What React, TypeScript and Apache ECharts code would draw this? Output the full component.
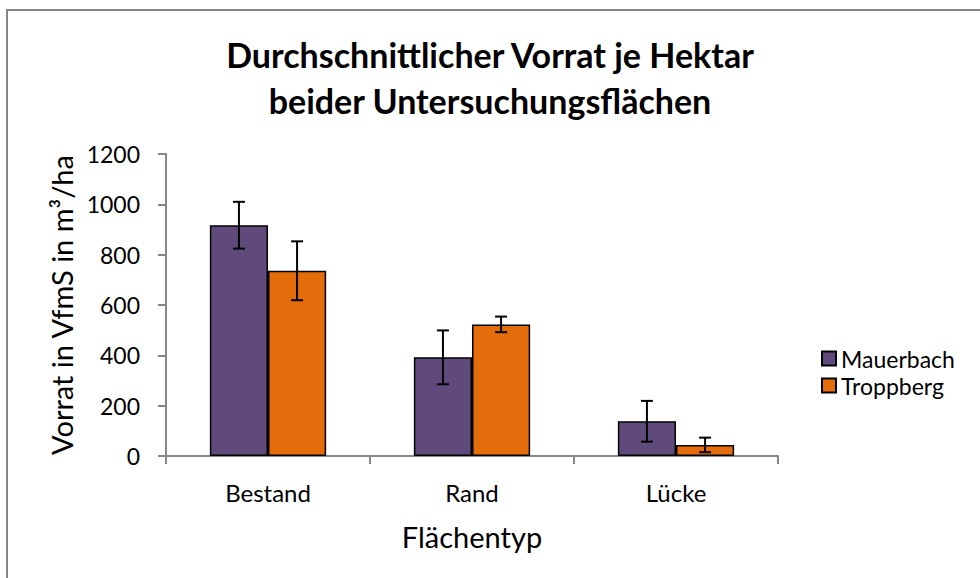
import React, { useEffect, useRef } from "react";
import * as echarts from "echarts";

const categories = ["Bestand", "Rand", "Lücke"];
const seriesNames = ["Mauerbach", "Troppberg"];
const mauerbach = [917, 392, 138];
const troppberg = [736, 523, 44];
const mauerbachErr = [93, 107, 81];
const troppbergErr = [117, 31, 29];
const yMin = 0;
const yMax = 1200;
const yInterval = 200;
const titleLines = ["Durchschnittlicher Vorrat je Hektar", "beider Untersuchungsflächen"];

const FONT = "Lato, 'Open Sans', sans-serif";
const GAP = 0.43;

function errorSeries(name: string, values: number[], errs: number[], side: number) {
  return {
    type: "custom",
    name: name + "-err",
    z: 5,
    silent: true,
    encode: { x: 0, y: 1 },
    data: values.map((v, i) => [i, v, errs[i]]),
    renderItem: (params: any, api: any) => {
      const idx = api.value(0);
      const val = api.value(1);
      const err = api.value(2);
      const c = api.coord([idx, val]);
      const band = api.size([1, 0])[0];
      const barW = (band * (1 - GAP)) / 2;
      const x = c[0] + (side * barW) / 2;
      const yTop = api.coord([idx, val + err])[1];
      const yBot = api.coord([idx, val - err])[1];
      const cap = 6;
      const st = { stroke: "#000", lineWidth: 2 };
      return {
        type: "group",
        children: [
          { type: "line", shape: { x1: x, y1: yTop, x2: x, y2: yBot }, style: st },
          { type: "line", shape: { x1: x - cap, y1: yTop, x2: x + cap, y2: yTop }, style: st },
          { type: "line", shape: { x1: x - cap, y1: yBot, x2: x + cap, y2: yBot }, style: st },
        ],
      };
    },
  };
}

export default function App() {
  const ref = useRef<HTMLDivElement>(null);
  useEffect(() => {
    if (!ref.current) return;
    const chart = echarts.init(ref.current, null, { renderer: "svg" });
    const titleStyle = {
      fontFamily: FONT,
      fontWeight: "bold",
      fontSize: 34,
      color: "#000",
    };
    chart.setOption({
      animation: false,
      backgroundColor: "#fff",
      title: [
        { text: titleLines[0], left: "center", top: 37, padding: 0, textStyle: titleStyle },
        { text: titleLines[1], left: "center", top: 83, padding: 0, textStyle: titleStyle },
      ],
      graphic: [
        {
          type: "rect",
          shape: { x: 7, y: 10, width: 1100, height: 700 },
          style: { fill: "none", stroke: "#868686", lineWidth: 2 },
          z: 100,
        },
      ],
      legend: {
        orient: "vertical",
        left: 816,
        top: 342,
        itemWidth: 14,
        itemHeight: 14,
        itemGap: 4,
        icon: "rect",
        data: seriesNames,
        textStyle: { fontFamily: FONT, fontSize: 23, lineHeight: 22, color: "#000" },
      },
      grid: { left: 166, right: 202, top: 154, bottom: 122 },
      xAxis: {
        type: "category",
        data: categories,
        name: "Flächentyp",
        nameLocation: "middle",
        nameGap: 66,
        nameTextStyle: { fontFamily: FONT, fontSize: 29, color: "#000" },
        axisLine: { lineStyle: { color: "#868686", width: 2 } },
        axisTick: { show: true, length: 8, lineStyle: { color: "#868686", width: 2 } },
        axisLabel: { fontFamily: FONT, fontSize: 24, color: "#000", margin: 24 },
      },
      yAxis: {
        type: "value",
        min: yMin,
        max: yMax,
        interval: yInterval,
        name: "Vorrat in VfmS in m³/ha",
        nameLocation: "middle",
        nameGap: 89,
        nameTextStyle: { fontFamily: FONT, fontSize: 29, color: "#000" },
        axisLine: { show: true, lineStyle: { color: "#868686", width: 2 } },
        axisTick: { show: true, length: 8, lineStyle: { color: "#868686", width: 2 } },
        splitLine: { show: false },
        axisLabel: {
          fontFamily: FONT,
          fontSize: 23,
          color: "#000",
          margin: 26,
          formatter: (v: number) => String(v),
        },
      },
      series: [
        {
          type: "bar",
          name: seriesNames[0],
          data: mauerbach,
          barGap: "0%",
          barCategoryGap: GAP * 100 + "%",
          itemStyle: { color: "#604A7B", borderColor: "#000", borderWidth: 1.5 },
        },
        {
          type: "bar",
          name: seriesNames[1],
          data: troppberg,
          itemStyle: { color: "#E46C0A", borderColor: "#000", borderWidth: 1.5 },
        },
        errorSeries(seriesNames[0], mauerbach, mauerbachErr, -1),
        errorSeries(seriesNames[1], troppberg, troppbergErr, 1),
      ],
    });
    return () => chart.dispose();
  }, []);
  return (
    <div
      ref={ref}
      style={{ position: "absolute", left: 0, top: 0, width: 980, height: 578 }}
    />
  );
}
